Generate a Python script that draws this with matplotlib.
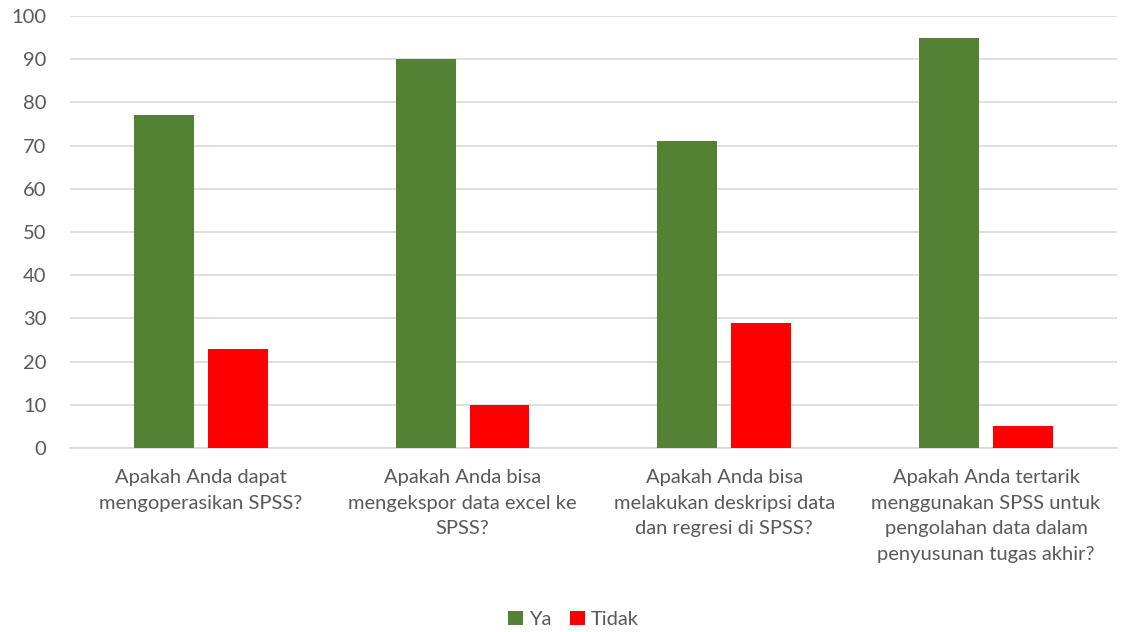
import numpy as np
import matplotlib
matplotlib.use("Agg")
import matplotlib.pyplot as plt

categories = [
    "Apakah Anda dapat\nmengoperasikan SPSS?",
    "Apakah Anda bisa\nmengekspor data excel ke\nSPSS?",
    "Apakah Anda bisa\nmelakukan deskripsi data\ndan regresi di SPSS?",
    "Apakah Anda tertarik\nmenggunakan SPSS untuk\npengolahan data dalam\npenyusunan tugas akhir?",
]
ya = [77, 90, 71, 95]
tidak = [23, 10, 29, 5]

plt.rcParams['font.family'] = ['Lato', 'DejaVu Sans']
text_color = '#595959'

fig = plt.figure(figsize=(11.22, 6.32), dpi=100)
ax = fig.add_axes([0.0624, 0.2911, 0.9331, 0.6836])

x = np.arange(len(categories))
w = 0.229
ax.bar(x - 0.141, ya, width=w, color='#548235', label='Ya', zorder=3)
ax.bar(x + 0.141, tidak, width=w, color='#FF0000', label='Tidak', zorder=3)

ax.set_xlim(-0.5, len(categories) - 0.5)
ax.set_ylim(0, 100)
ax.set_yticks(range(0, 101, 10))
ax.yaxis.grid(True, color='#D9D9D9', linewidth=1.2, zorder=0)
for s in ['top', 'right', 'left']:
    ax.spines[s].set_visible(False)
ax.spines['bottom'].set_color('#D9D9D9')
ax.spines['bottom'].set_linewidth(1.2)
ax.tick_params(axis='both', length=0, colors=text_color, labelsize=14.5)
ax.tick_params(axis='y', pad=17)
ax.tick_params(axis='x', pad=15)
ax.set_xticks(x)
ax.set_xticklabels(categories, linespacing=1.62)

leg = fig.legend(loc='center', bbox_to_anchor=(0.511, 0.02), ncol=2, frameon=False,
                 fontsize=14.5, handlelength=0.75, handleheight=0.75,
                 handletextpad=0.3, columnspacing=0.9)
for t in leg.get_texts():
    t.set_color(text_color)

fig.savefig("out.png", dpi=100)
